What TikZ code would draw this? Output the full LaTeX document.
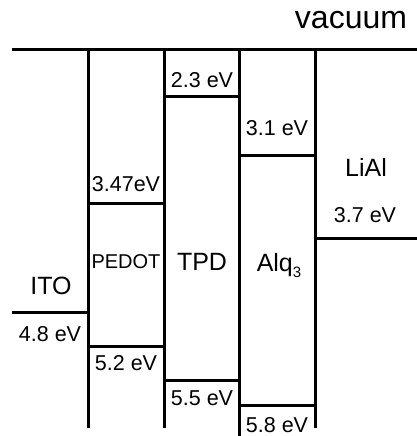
\documentclass[tikz,border=0pt]{standalone}
\usepackage{fontspec}
\setmainfont{Liberation Sans}
\begin{document}
\begin{tikzpicture}[x=1pt,y=-1pt,
  lvl/.style={line width=3pt},
  wall/.style={line width=3pt},
  ev/.style={inner sep=0pt,font=\fontsize{21.5}{21.5}\selectfont},
  mat/.style={inner sep=0pt,font=\fontsize{25}{25}\selectfont}]
\useasboundingbox (0,0) rectangle (417,436);
% vacuum level
\draw[lvl] (12,50) -- (417,50);
% layer walls
\draw[wall] (88,50) -- (88,428);
\draw[wall] (164,50) -- (164,428);
\draw[wall] (239,50) -- (239,436);
\draw[wall] (315,50) -- (315,428);
% levels
\draw[lvl] (164,96) -- (239,96);
\draw[lvl] (239,155) -- (315,155);
\draw[lvl] (88,203) -- (164,203);
\draw[lvl] (315,238) -- (417,238);
\draw[lvl] (12,312) -- (88,312);
\draw[lvl] (88,346) -- (164,346);
\draw[lvl] (164,380) -- (239,380);
\draw[lvl] (239,405) -- (315,405);
% labels
\node[inner sep=0pt,font=\fontsize{32}{32}\selectfont] (vac) at (351,20) {vacuum};
\node[ev] (l23) at (202,80) {2.3 eV};
\node[ev] (l31) at (277,128) {3.1 eV};
\node[mat] (liai) at (366,167) {LiAl};
\node[ev] (l37) at (365,215) {3.7 eV};
\node[ev] (l347) at (126,184) {3.47eV};
\node[inner sep=0pt,font=\fontsize{20}{20}\selectfont] (pedot) at (126,262) {PEDOT};
\node[mat] (tpd) at (202,262) {TPD};
\node[mat,anchor=base] (alq) at (279,271) {Alq\raisebox{-6pt}{\fontsize{15}{15}\selectfont 3}};
\node[mat] (ito) at (51,286) {ITO};
\node[ev] (l48) at (50,334) {4.8 eV};
\node[ev] (l52) at (126,363) {5.2 eV};
\node[ev] (l55) at (202,398) {5.5 eV};
\node[ev] (l58) at (277,425) {5.8 eV};
\end{tikzpicture}
\end{document}
